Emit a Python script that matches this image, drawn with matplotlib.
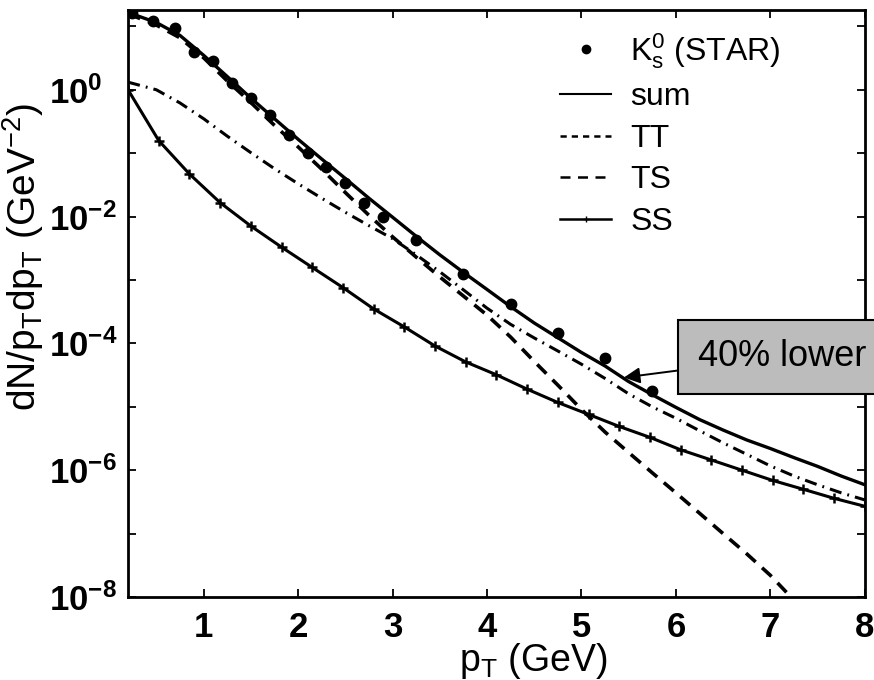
import numpy as np
import matplotlib
matplotlib.use("Agg")
import matplotlib.pyplot as plt
from matplotlib.lines import Line2D
from matplotlib.ticker import FixedLocator, FuncFormatter

plt.rcParams['font.family'] = ['Liberation Sans', 'DejaVu Sans']
plt.rcParams['mathtext.fontset'] = 'custom'
plt.rcParams['mathtext.rm'] = 'Liberation Sans'
plt.rcParams['mathtext.it'] = 'Liberation Sans:italic'
plt.rcParams['mathtext.bf'] = 'Liberation Sans:bold'

# STAR K0s points
star_pt = [0.24, 0.46, 0.70, 0.90, 1.10, 1.30, 1.50, 1.70, 1.90, 2.10, 2.30,
           2.50, 2.70, 2.90, 3.25, 3.75, 4.25, 4.75, 5.25, 5.75]
star_y = [1.6e1, 1.2e1, 9.5, 4.0, 2.8, 1.3, 0.75, 0.40, 0.195, 0.10, 0.061,
          0.034, 0.0165, 0.010, 4.2e-3, 1.26e-3, 4.2e-4, 1.47e-4, 5.9e-5, 1.8e-5]

# model curves
pt = [0.2, 0.5, 0.75, 1.0, 1.25, 1.5, 1.75, 2.0, 2.25, 2.5, 2.75, 3.0, 3.25,
      3.5, 3.75, 4.0, 4.25, 4.5, 4.75, 5.0, 5.25, 5.5, 5.75, 6.0, 6.25, 6.5,
      6.75, 7.0, 7.25, 7.5, 7.75, 8.0]
sum_y = [16.6, 11.5, 7.2, 3.5, 1.62, 0.74, 0.35, 0.166, 0.081, 0.040, 0.0195,
         9.8e-3, 4.9e-3, 2.5e-3, 1.32e-3, 7.1e-4, 3.8e-4, 2.1e-4, 1.23e-4,
         7.2e-5, 4.4e-5, 2.5e-5, 1.55e-5, 9.8e-6, 6.3e-6, 4.3e-6, 3.0e-6,
         2.2e-6, 1.58e-6, 1.15e-6, 8.1e-7, 5.9e-7]
ts_y = [1.32, 1.0, 0.62, 0.35, 0.186, 0.102, 0.057, 0.033, 0.0195, 0.0117,
        7.2e-3, 4.5e-3, 2.5e-3, 1.35e-3, 7.0e-4, 3.6e-4, 2.0e-4, 1.22e-4,
        7.6e-5, 4.7e-5, 2.8e-5, 1.6e-5, 1.0e-5, 6.6e-6, 4.2e-6, 2.7e-6,
        1.78e-6, 1.17e-6, 8.1e-7, 5.9e-7, 4.4e-7, 3.4e-7]

tt_pt = pt[:29]
tt_y = [15.8, 10.5, 6.6, 3.2, 1.38, 0.63, 0.275, 0.126, 0.056, 0.024, 0.0105,
        4.8e-3, 2.3e-3, 1.12e-3, 5.6e-4, 2.8e-4, 1.26e-4, 5.2e-5, 2.2e-5,
        9.1e-6, 4.0e-6, 1.9e-6, 9.1e-7, 4.4e-7, 2.1e-7, 1.0e-7, 4.8e-8,
        2.2e-8, 8.9e-9]

ss_pt = [0.2, 0.525, 0.85, 1.175, 1.5, 1.825, 2.15, 2.475, 2.8, 3.125, 3.45,
         3.775, 4.1, 4.425, 4.75, 5.075, 5.4, 5.725, 6.05, 6.375, 6.7, 7.025,
         7.35, 7.675, 8.0]
ss_y = [1.0, 0.158, 0.047, 0.0166, 7.1e-3, 3.3e-3, 1.58e-3, 7.6e-4, 3.5e-4,
        1.82e-4, 9.1e-5, 5.1e-5, 3.2e-5, 1.9e-5, 1.17e-5, 7.6e-6, 4.9e-6,
        3.3e-6, 2.1e-6, 1.45e-6, 1.0e-6, 6.9e-7, 5.0e-7, 3.6e-7, 2.7e-7]

arrow_pt, arrow_y = 5.45, 2.9e-5

fig = plt.figure(figsize=(8.74, 6.8), dpi=100)
ax = fig.add_axes([0.1465, 0.122, 0.843, 0.863])

ax.plot(pt, sum_y, '-', color='k', lw=2.4)
ax.plot(tt_pt, tt_y, color='k', lw=2.6, linestyle=(0, (3.6, 2.4)))
ax.plot(pt, ts_y, color='k', lw=2.2, linestyle=(0, (4.0, 2.0, 0.6, 2.0)))
ax.plot(ss_pt, ss_y, '-', color='k', lw=2.2, marker='+', ms=7, mew=1.8)
ax.plot(star_pt, star_y, 'o', color='k', ms=7.5, mec='k')

ax.set_yscale('log')
ax.set_xlim(0.2, 8)
ax.set_ylim(1e-8, 18)

ax.xaxis.set_major_locator(FixedLocator(range(1, 9)))
ax.yaxis.set_major_locator(FixedLocator([10.0 ** k for k in range(-8, 2)]))
ax.yaxis.set_minor_locator(FixedLocator([]))


def ylab(v, pos):
    e = int(round(np.log10(v)))
    if e % 2:
        return ''
    return r'$\mathbf{10^{%d}}$' % e


ax.yaxis.set_major_formatter(FuncFormatter(ylab))
ax.xaxis.set_major_formatter(FuncFormatter(lambda v, p: '%d' % v))
ax.tick_params(which='both', direction='in', top=True, right=True,
               length=6, width=1.3, labelsize=25)
ax.tick_params(axis='x', pad=10)
ax.tick_params(axis='y', pad=57)
for lab in ax.get_xticklabels():
    lab.set_fontweight('bold')
for lab in ax.get_yticklabels():
    lab.set_horizontalalignment('left')
for s in ax.spines.values():
    s.set_linewidth(2.0)

ax.set_xlabel(r'p$_\mathrm{T}$ (GeV)', fontsize=27)
ax.xaxis.set_label_coords(0.55, -0.075)
ax.set_ylabel(r'dN/p$_\mathrm{T}$dp$_\mathrm{T}$ (GeV$^{-2}$)', fontsize=28)
ax.yaxis.set_label_coords(-0.112, 0.58)

handles = [
    Line2D([], [], color='k', marker='o', ls='none', ms=6),
    Line2D([], [], color='k', lw=1.5),
    Line2D([], [], color='k', lw=1.8, linestyle=(0, (2.5, 2))),
    Line2D([], [], color='k', lw=1.8, linestyle=(0, (4, 3))),
    Line2D([], [], color='k', lw=1.8, marker='+', ms=4, markevery=[0, -1]),
]
labels = [r'K$^0_\mathrm{s}$ (STAR)', 'sum', 'TT', 'TS', 'SS']
ax.legend(handles, labels, loc='upper left', frameon=False, fontsize=23,
          handlelength=1.6, handletextpad=0.6, labelspacing=0.36,
          borderpad=0, borderaxespad=0,
          bbox_to_anchor=(560 / 874, 1 - 31 / 680),
          bbox_transform=fig.transFigure)

ax.annotate('40% lower', xy=(arrow_pt, arrow_y), xycoords='data',
            xytext=(698 / 874, 1 - 357 / 680), textcoords='figure fraction',
            fontsize=26, ha='left', va='center',
            bbox=dict(boxstyle='square,pad=0.55', fc='#bcbcbc', ec='k', lw=1.5),
            arrowprops=dict(arrowstyle='-|>', color='k', lw=1.4,
                            mutation_scale=24, shrinkA=0, shrinkB=0),
            annotation_clip=False)

fig.savefig('out.png', dpi=100)
